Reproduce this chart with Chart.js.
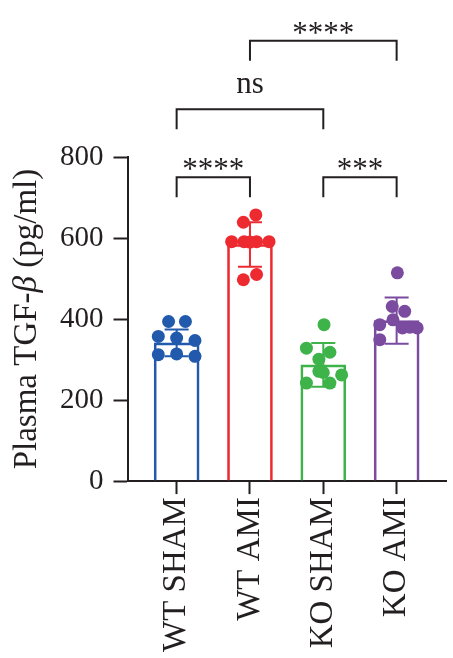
<!DOCTYPE html>
<html>
<head>
<meta charset="utf-8">
<script src="https://cdn.jsdelivr.net/npm/chart.js@4.4.1/dist/chart.umd.min.js"></script>
<style>
  html, body { margin: 0; padding: 0; background: #fff; }
  canvas { display: block; }
</style>
</head>
<body>
<canvas id="chart" width="453" height="658"></canvas>
<script>
// groups and summary values
var groups = ["WT SHAM", "WT AMI", "KO SHAM", "KO AMI"];
var colors = ["#2159ad", "#ed2a30", "#3db34a", "#7a4b9f"];
var means = [341, 584, 287, 396];
var sds = [33, 55, 54, 57];

// individual animals, with horizontal jitter (in category units)
var wtShamY = [394, 394, 357, 353, 347, 312, 314, 308];
var wtShamDx = [-0.11, 0.12, -0.25, 0, 0.25, -0.25, 0, 0.25];
var wtAmiY = [657, 639, 591, 591, 591, 591, 590, 497, 510];
var wtAmiDx = [0.08, -0.09, -0.25, -0.08, 0.09, 0.26, 0, -0.09, 0.09];
var koShamY = [386, 328, 318, 301, 271, 262, 242, 242, 268];
var koShamDx = [0.01, -0.23, 0.09, -0.06, -0.06, 0.25, -0.23, 0.09, 0];
var koAmiY = [514, 431, 419, 398, 386, 378, 378, 349, 380];
var koAmiDx = [0.01, -0.06, 0.11, -0.05, -0.23, 0.08, 0.28, -0.23, 0.18];

// significance brackets
var sigFrom = [0, 2, 0, 1];
var sigTo = [1, 3, 2, 3];
var sigY = [750, 750, 918, 1087];
var sigText = ["****", "***", "ns", "****"];

// y axis title, in pieces so the beta can be italic
var yTitle = [["Plasma TGF-", false], ["β", true], [" (pg/ml)", false]];

var ink = "#231f20";
var serif = "'Liberation Serif', 'DejaVu Serif', serif";

function pts(i, ys, dxs) {
    var out = [];
    for (var k = 0; k < ys.length; k++) {
        out.push({x: i + dxs[k], y: ys[k]});
    }
    return out;
}

var scatterSets = [
    pts(0, wtShamY, wtShamDx),
    pts(1, wtAmiY, wtAmiDx),
    pts(2, koShamY, koShamDx),
    pts(3, koAmiY, koAmiDx)
].map(function(d, i) {
    return {
        type: "scatter",
        data: d,
        backgroundColor: colors[i],
        borderColor: colors[i],
        borderWidth: 0,
        pointRadius: 6.5,
        order: 0
    };
});

var barSet = {
    type: "bar",
    data: means.map(function(m, i) { return {x: i, y: m}; }),
    backgroundColor: "rgba(255,255,255,0)",
    borderColor: colors,
    borderWidth: 2,
    borderSkipped: "bottom",
    barThickness: 45,
    order: 10
};

var errorBars = {
    id: "errorBars",
    afterDatasetDraw: function(chart, args) {
        if (args.meta.type !== "bar") return;
        var ctx = chart.ctx, xs = chart.scales.x, ys = chart.scales.y;
        ctx.save();
        ctx.lineWidth = 2;
        for (var i = 0; i < means.length; i++) {
            var x = xs.getPixelForValue(i);
            var top = ys.getPixelForValue(means[i] + sds[i]);
            var bot = ys.getPixelForValue(means[i] - sds[i]);
            ctx.strokeStyle = colors[i];
            ctx.beginPath();
            ctx.moveTo(x, top); ctx.lineTo(x, bot);
            ctx.moveTo(x - 12, top); ctx.lineTo(x + 12, top);
            ctx.moveTo(x - 12, bot); ctx.lineTo(x + 12, bot);
            ctx.stroke();
        }
        ctx.restore();
    }
};

var brackets = {
    id: "brackets",
    afterDraw: function(chart) {
        var ctx = chart.ctx, xs = chart.scales.x, ys = chart.scales.y;
        ctx.save();
        ctx.strokeStyle = ink;
        ctx.fillStyle = ink;
        ctx.lineWidth = 2;
        ctx.textAlign = "center";
        ctx.textBaseline = "alphabetic";
        for (var i = 0; i < sigText.length; i++) {
            var x1 = xs.getPixelForValue(sigFrom[i]);
            var x2 = xs.getPixelForValue(sigTo[i]);
            var y = ys.getPixelForValue(sigY[i]);
            ctx.beginPath();
            ctx.moveTo(x1, y + 20); ctx.lineTo(x1, y); ctx.lineTo(x2, y); ctx.lineTo(x2, y + 20);
            ctx.stroke();
            ctx.font = "31px " + serif;
            if (sigText[i] === "ns") {
                ctx.fillText(sigText[i], (x1 + x2) / 2, y - 16);
            } else {
                ctx.fillText(sigText[i], (x1 + x2) / 2, y + 2);
            }
        }
        ctx.restore();
    }
};

// rotated y title drawn by hand (mixed upright / italic)
var yTitlePlugin = {
    id: "yTitle",
    afterDraw: function(chart) {
        var ctx = chart.ctx, area = chart.chartArea;
        var fonts = yTitle.map(function(p) { return (p[1] ? "italic " : "") + "33px " + serif; });
        ctx.save();
        var total = 0;
        yTitle.forEach(function(p, i) { ctx.font = fonts[i]; total += ctx.measureText(p[0]).width; });
        ctx.translate(36, (area.top + area.bottom) / 2);
        ctx.rotate(-Math.PI / 2);
        ctx.fillStyle = ink;
        ctx.textBaseline = "alphabetic";
        ctx.textAlign = "left";
        var x = -total / 2;
        yTitle.forEach(function(p, i) {
            ctx.font = fonts[i];
            ctx.fillText(p[0], x, 0);
            x += ctx.measureText(p[0]).width;
        });
        ctx.restore();
    }
};

var chart = new Chart(document.getElementById("chart").getContext("2d"), {
    type: "bar",
    data: { datasets: [barSet].concat(scatterSets) },
    options: {
        responsive: false,
        animation: false,
        devicePixelRatio: 1,
        layout: { padding: { top: 157, right: 4, left: 50, bottom: 3 } },
        plugins: { legend: { display: false }, tooltip: { enabled: false } },
        scales: {
            x: {
                type: "linear",
                offset: false,
                min: -0.67,
                max: 3.68,
                afterBuildTicks: function(axis) {
                    axis.ticks = groups.map(function(g, i) { return {value: i}; });
                },
                ticks: {
                    callback: function(v) { return groups[v]; },
                    minRotation: 90,
                    maxRotation: 90,
                    autoSkip: false,
                    color: ink,
                    padding: 3,
                    font: { family: serif, size: 33 }
                },
                grid: { offset: false, drawOnChartArea: false, drawTicks: true, tickLength: 13, tickWidth: 2, color: ink },
                border: { display: true, width: 2, color: ink }
            },
            y: {
                min: 0,
                max: 800,
                ticks: {
                    stepSize: 200,
                    color: ink,
                    padding: 10,
                    font: { family: serif, size: 29 }
                },
                grid: { drawOnChartArea: false, drawTicks: true, tickLength: 14, tickWidth: 2, color: ink },
                border: { display: true, width: 2, color: ink }
            }
        }
    },
    plugins: [errorBars, brackets, yTitlePlugin]
});
</script>
</body>
</html>
